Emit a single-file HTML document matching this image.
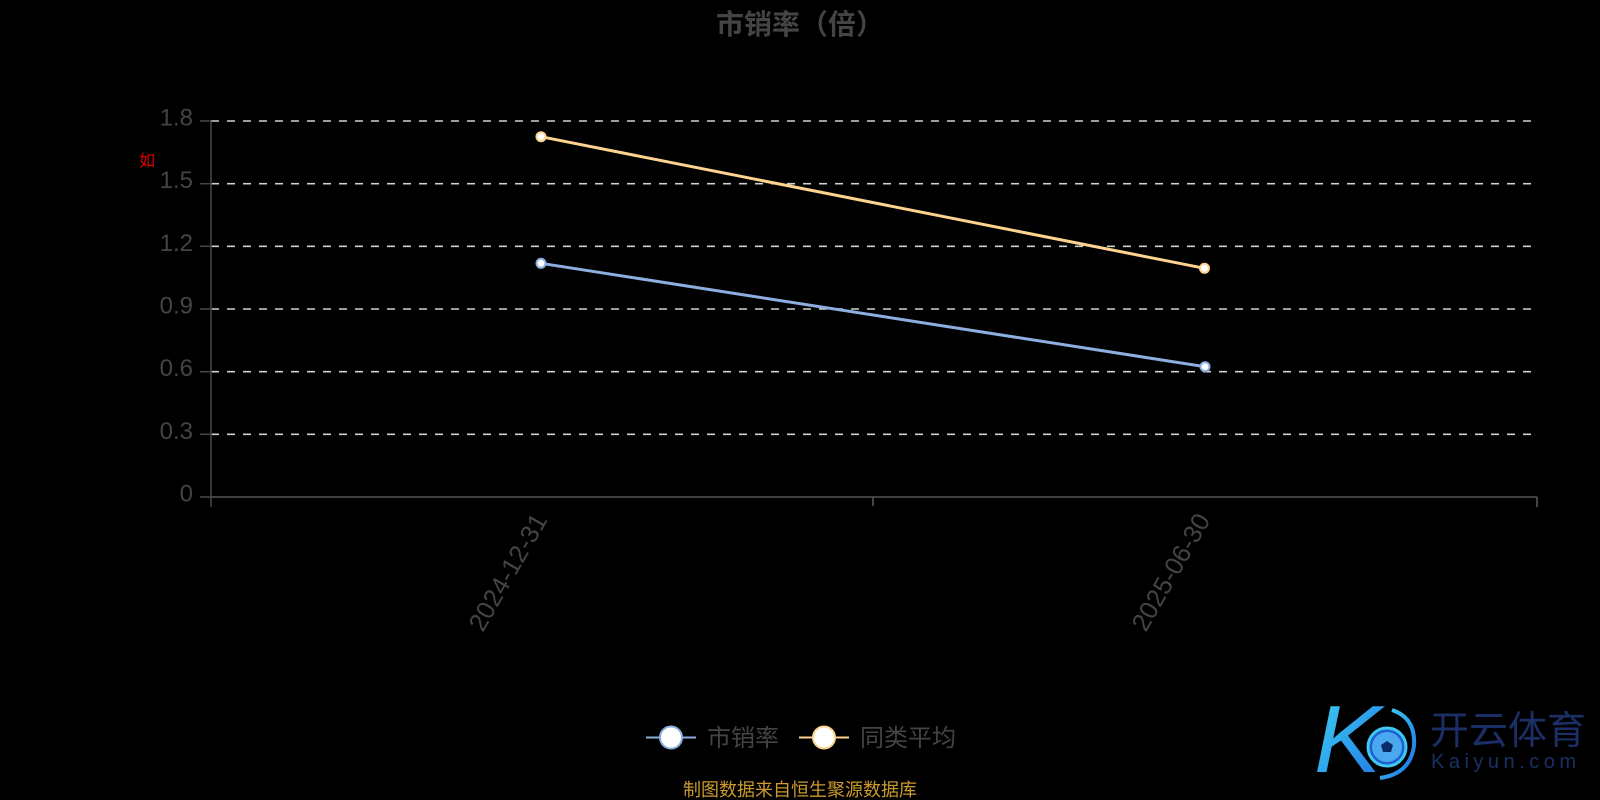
<!DOCTYPE html>
<html>
<head>
<meta charset="utf-8">
<style>
html,body{margin:0;padding:0;background:#000;}
body{width:1600px;height:800px;overflow:hidden;}
svg{display:block;}
text{font-family:"Liberation Sans","Noto Sans CJK SC",sans-serif;}
</style>
</head>
<body>
<svg width="1600" height="800" viewBox="0 0 1600 800" xmlns="http://www.w3.org/2000/svg">
  <defs>
    <linearGradient id="kg" x1="0" y1="0" x2="1" y2="1">
      <stop offset="0" stop-color="#3fd6f0"/>
      <stop offset="1" stop-color="#1f6fe8"/>
    </linearGradient>
  </defs>
  <rect width="1600" height="800" fill="#000"/>

  <!-- title -->
  <text x="800" y="34" text-anchor="middle" font-size="28" font-weight="bold" fill="#444">市销率（倍）</text>

  <!-- red unit label -->
  <text x="139" y="166" font-size="16" fill="#e00000">如</text>

  <!-- grid lines -->
  <g stroke="#cfcfcf" stroke-width="1.6" stroke-dasharray="8 8">
    <line x1="211" y1="121" x2="1537" y2="121"/>
    <line x1="211" y1="183.7" x2="1537" y2="183.7"/>
    <line x1="211" y1="246.3" x2="1537" y2="246.3"/>
    <line x1="211" y1="309" x2="1537" y2="309"/>
    <line x1="211" y1="371.7" x2="1537" y2="371.7"/>
    <line x1="211" y1="434.3" x2="1537" y2="434.3"/>
  </g>

  <!-- y axis -->
  <g stroke="#444" stroke-width="1.6">
    <line x1="211" y1="121" x2="211" y2="507"/>
    <line x1="200" y1="121" x2="211" y2="121"/>
    <line x1="200" y1="183.7" x2="211" y2="183.7"/>
    <line x1="200" y1="246.3" x2="211" y2="246.3"/>
    <line x1="200" y1="309" x2="211" y2="309"/>
    <line x1="200" y1="371.7" x2="211" y2="371.7"/>
    <line x1="200" y1="434.3" x2="211" y2="434.3"/>
    <line x1="200" y1="497" x2="211" y2="497"/>
  </g>
  <!-- x axis -->
  <g stroke="#555" stroke-width="1.6">
    <line x1="211" y1="497" x2="1537" y2="497"/>
    <line x1="873" y1="497" x2="873" y2="506"/>
    <line x1="1537" y1="497" x2="1537" y2="507"/>
  </g>

  <!-- y labels -->
  <g font-size="24" fill="#444" text-anchor="end">
    <text x="193" y="125.5">1.8</text>
    <text x="193" y="188.2">1.5</text>
    <text x="193" y="250.8">1.2</text>
    <text x="193" y="313.5">0.9</text>
    <text x="193" y="376.2">0.6</text>
    <text x="193" y="438.8">0.3</text>
    <text x="193" y="501.5">0</text>
  </g>

  <!-- x labels -->
  <g font-size="25.5" fill="#444" text-anchor="end">
    <text x="0" y="0" transform="translate(541,516) rotate(-60)" dominant-baseline="central">2024-12-31</text>
    <text x="0" y="0" transform="translate(1204,516) rotate(-60)" dominant-baseline="central">2025-06-30</text>
  </g>

  <!-- series -->
  <line x1="541" y1="136.7" x2="1204.5" y2="268.3" stroke="#fdd38f" stroke-width="3"/>
  <line x1="541" y1="263.3" x2="1205" y2="366.7" stroke="#8cafe0" stroke-width="3"/>
  <circle cx="541" cy="136.7" r="4.5" fill="#fff" stroke="#fdd38f" stroke-width="2"/>
  <circle cx="1204.5" cy="268.3" r="4.5" fill="#fff" stroke="#fdd38f" stroke-width="2"/>
  <circle cx="541" cy="263.3" r="4.5" fill="#fff" stroke="#8cafe0" stroke-width="2"/>
  <circle cx="1205" cy="366.7" r="4.5" fill="#fff" stroke="#8cafe0" stroke-width="2"/>

  <!-- legend -->
  <line x1="646" y1="737.5" x2="696" y2="737.5" stroke="#8cafe0" stroke-width="2"/>
  <circle cx="671" cy="737.5" r="11" fill="#fff" stroke="#8cafe0" stroke-width="2"/>
  <text x="707" y="746" font-size="24" fill="#444">市销率</text>
  <line x1="799" y1="737.5" x2="849" y2="737.5" stroke="#fdd38f" stroke-width="2"/>
  <circle cx="824" cy="737.5" r="11" fill="#fff" stroke="#fdd38f" stroke-width="2"/>
  <text x="860" y="746" font-size="24" fill="#444">同类平均</text>

  <!-- footer -->
  <text x="800" y="796" text-anchor="middle" font-size="18" fill="#cc9a2e">制图数据来自恒生聚源数据库</text>

  <!-- logo -->
  <g>
    <text x="1314" y="772" font-family="Liberation Serif, serif" font-style="italic" font-size="96" fill="url(#kg)" transform="translate(1314,0) scale(1.05,1) translate(-1314,0)">K</text>
    <path d="M1392 710 q24 8 22 36 q-4 28 -34 32" fill="none" stroke="url(#kg)" stroke-width="4"/>
    <circle cx="1387" cy="747" r="19" fill="#1f5fd0" stroke="#3fc8f0" stroke-width="3"/>
    <circle cx="1387" cy="747" r="15" fill="#4aa8f0"/>
    <polygon points="1387,741 1393,745 1391,752 1383,752 1381,745" fill="#0a2a6a"/>
    <text x="1430" y="744" font-size="39" fill="#1b2f66" font-family="'Noto Sans CJK SC',sans-serif">开云体育</text>
    <text x="1431" y="768" font-size="20" fill="#1b2f66" letter-spacing="4.5">Kaiyun.com</text>
  </g>
</svg>
</body>
</html>
